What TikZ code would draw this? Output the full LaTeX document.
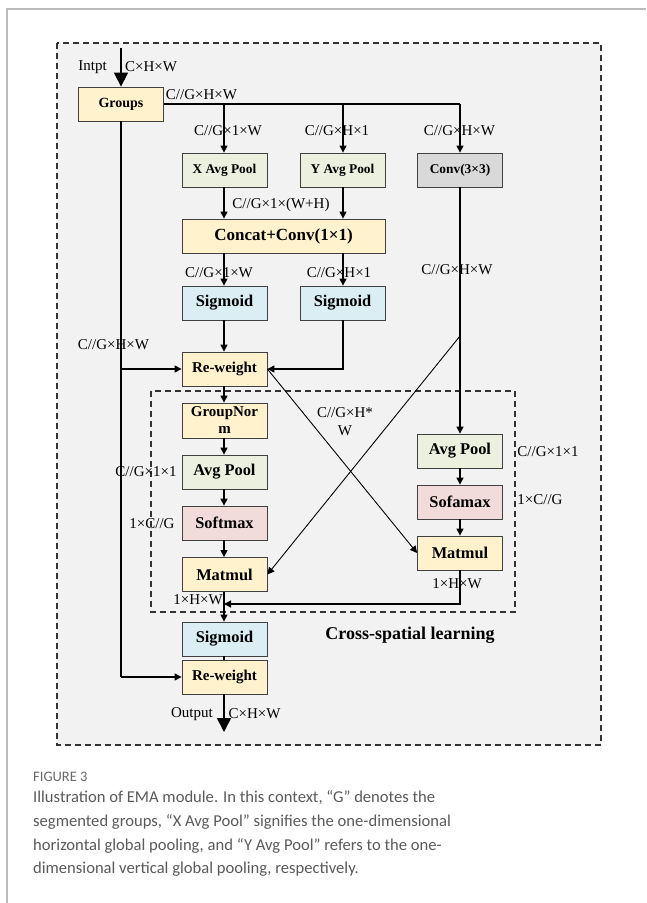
\documentclass[tikz,border=0pt]{standalone}
\usepackage{fontspec}
\setmainfont{Liberation Serif}
\newfontfamily\capfont{Carlito}
\usetikzlibrary{arrows.meta}
\definecolor{cyel}{HTML}{FFF2CC}
\definecolor{cgrn}{HTML}{EBF1DE}
\definecolor{cgry}{HTML}{D9D9D9}
\definecolor{cblu}{HTML}{DAEEF3}
\definecolor{cpnk}{HTML}{F2DCDB}
\definecolor{cbg}{HTML}{F2F2F2}
\definecolor{cbord}{HTML}{404040}
\definecolor{cframe}{HTML}{BBBBBB}
\definecolor{ccap}{HTML}{5A5A5A}
\definecolor{cfig}{HTML}{6A6A6A}
\begin{document}
\begin{tikzpicture}[x=1pt,y=-1pt,
  box/.style={draw=cbord, line width=0.8pt, minimum width=85pt, minimum height=34pt, inner sep=0pt,
    font=\fontsize{16.4}{18}\selectfont\bfseries, align=center},
  smallbox/.style={box, font=\fontsize{13.4}{15}\selectfont\bfseries},
  midbox/.style={box, font=\fontsize{15}{17}\selectfont\bfseries},
  lbl/.style={font=\fontsize{15}{17}\selectfont, inner sep=0pt},
  ln/.style={line width=1.2pt},
  thin/.style={line width=0.9pt},
  arr/.style={ln, -{Triangle[width=7pt,length=7pt]}},
  tarr/.style={thin, -{Triangle[width=7pt,length=7pt]}},
  bigarr/.style={line width=1.5pt, -{Triangle[width=14pt,length=14pt]}},
  dashbox/.style={line width=1.3pt, dash pattern=on 6pt off 4pt},
  captxt/.style={anchor=west, inner sep=0pt, text=ccap, font=\capfont\fontsize{16.6}{20}\selectfont}
]
\useasboundingbox (0,0) rectangle (646,903);
\fill[white] (0,0) rectangle (646,903);
% page frame
\draw[cframe, line width=1.3pt] (7,903) -- (7,9) -- (646,9);
% outer dashed box
\filldraw[fill=cbg, draw=black!80, dashbox] (57,43) rectangle (601,745);
% inner dashed box
\draw[black!80, dashbox] (151,391) rectangle (515,612);

% nodes
\node[smallbox, fill=cyel, font=\fontsize{14}{16}\selectfont\bfseries] (groups) at (121,104) {Groups};
\node[smallbox, fill=cgrn] (xpool) at (224.5,170) {X Avg Pool};
\node[smallbox, fill=cgrn] (ypool) at (342.5,170) {Y Avg Pool};
\node[smallbox, fill=cgry] (conv) at (460,170) {Conv(3×3)};
\node[box, fill=cyel, minimum width=203pt, font=\fontsize{17}{19}\selectfont\bfseries] (concat) at (283.5,236) {Concat+Conv(1×1)};
\node[box, fill=cblu] (sig1) at (224.5,303) {Sigmoid};
\node[box, fill=cblu] (sig2) at (342.5,303) {Sigmoid};
\node[midbox, fill=cyel] (rw1) at (224.5,369) {Re-weight};
\node[midbox, fill=cyel, minimum height=35pt, font=\fontsize{15}{17}\selectfont\bfseries] (gn) at (224.5,420.5) {GroupNor\\m};
\node[box, fill=cgrn] (lpool) at (224.5,472) {Avg Pool};
\node[box, fill=cpnk] (lsoft) at (224.5,523) {Softmax};
\node[box, fill=cyel] (lmat) at (224.5,574.5) {Matmul};
\node[box, fill=cgrn] (rpool) at (460,451) {Avg Pool};
\node[box, fill=cpnk] (rsoft) at (460,502) {Sofamax};
\node[box, fill=cyel] (rmat) at (460,553) {Matmul};
\node[box, fill=cblu] (sig3) at (224.5,639) {Sigmoid};
\node[midbox, fill=cyel] (rw2) at (224.5,677) {Re-weight};

% coordinates
\coordinate (inp) at (121,48);
\coordinate (outp) at (224,732);
\coordinate (jx) at (224,104);
\coordinate (jy) at (343,104);
\coordinate (jc) at (460,104);
\coordinate (gl1) at (121,369);
\coordinate (gl2) at (121,677);
\coordinate (dg) at (460,336);
\coordinate (mj) at (224,604);
\coordinate (rc) at (460,604);

% connectors
\draw[bigarr] (inp) -- (groups.north);
\draw[ln] (groups.east) -- (jc);
\draw[arr] (jx) -- (xpool.north -| jx);
\draw[arr] (jy) -- (ypool.north -| jy);
\draw[arr] (jc) -- (conv.north);
\draw[arr] (xpool.south -| jx) -- (concat.north -| jx);
\draw[arr] (ypool.south -| jy) -- (concat.north -| jy);
\draw[arr] (concat.south -| jx) -- (sig1.north -| jx);
\draw[arr] (concat.south -| jy) -- (sig2.north -| jy);
\draw[arr] (sig1.south -| jx) -- (rw1.north -| jx);
\draw[arr] (sig2.south -| jy) -- (rw1.east -| jy) -- (rw1.east);
\draw[ln] (groups.south) -- (gl2);
\draw[arr] (gl1) -- (rw1.west);
\draw[arr] (gl2) -- (rw2.west);
\draw[arr] (conv.south) -- (rpool.north);
\draw[tarr] (dg) -- (lmat.east);
\draw[tarr] (rw1.east) -- (rmat.west);
\draw[arr] (rw1.south -| jx) -- (gn.north -| jx);
\draw[arr] (gn.south -| jx) -- (lpool.north -| jx);
\draw[arr] (lpool.south -| jx) -- (lsoft.north -| jx);
\draw[arr] (lsoft.south -| jx) -- (lmat.north -| jx);
\draw[arr] (rpool.south) -- (rsoft.north);
\draw[arr] (rsoft.south) -- (rmat.north);
\draw[arr] (rmat.south) -- (rc) -- (mj);
\draw[arr] (lmat.south -| jx) -- (sig3.north -| jx);
\draw[ln] (sig3.south -| jx) -- (rw2.north -| jx);
\draw[bigarr] (rw2.south -| jx) -- (outp);

% labels
\node[lbl] (tin) at (92.5,67) {Intpt};
\node[lbl] (tinsz) at (151,67) {C×H×W};
\node[lbl] (tg) at (201.5,95) {C//G×H×W};
\node[lbl] (tx) at (228,131) {C//G×1×W};
\node[lbl] (ty) at (337,131) {C//G×H×1};
\node[lbl] (tc) at (459.5,131) {C//G×H×W};
\node[lbl] (tcat) at (281,205) {C//G×1×(W+H)};
\node[lbl] (ts1) at (219,273) {C//G×1×W};
\node[lbl] (ts2) at (339,273) {C//G×H×1};
\node[lbl] (tcm) at (457,270) {C//G×H×W};
\node[lbl] (tgl) at (113.5,345) {C//G×H×W};
\node[lbl, align=center, font=\fontsize{15}{18}\selectfont] (tx2) at (345,422) {C//G×H*\\W};
\node[lbl] (tlp) at (146,472) {C//G×1×1};
\node[lbl] (tls) at (152,524) {1×C//G};
\node[lbl] (tlm) at (198,600) {1×H×W};
\node[lbl] (trp) at (548,452) {C//G×1×1};
\node[lbl] (trs) at (540,500) {1×C//G};
\node[lbl] (trm) at (457,584) {1×H×W};
\node[lbl] (tout) at (192,714) {Output};
\node[lbl] (toutsz) at (254.5,714) {C×H×W};
\node[font=\fontsize{18}{20}\selectfont\bfseries, inner sep=0pt] (tcs) at (410,635) {Cross-spatial learning};

% caption
\node[anchor=west, inner sep=0pt, text=cfig, font=\capfont\fontsize{14.5}{16}\selectfont] (fig) at (33,777) {FIGURE 3};
\node[captxt] (c1) at (33,798) {Illustration of EMA module. In this context, “G” denotes the};
\node[captxt] (c2) at (33,822) {segmented groups, “X Avg Pool” signifies the one-dimensional};
\node[captxt] (c3) at (33,846) {horizontal global pooling, and “Y Avg Pool” refers to the one-};
\node[captxt] (c4) at (33,869) {dimensional vertical global pooling, respectively.};
\end{tikzpicture}
\end{document}
